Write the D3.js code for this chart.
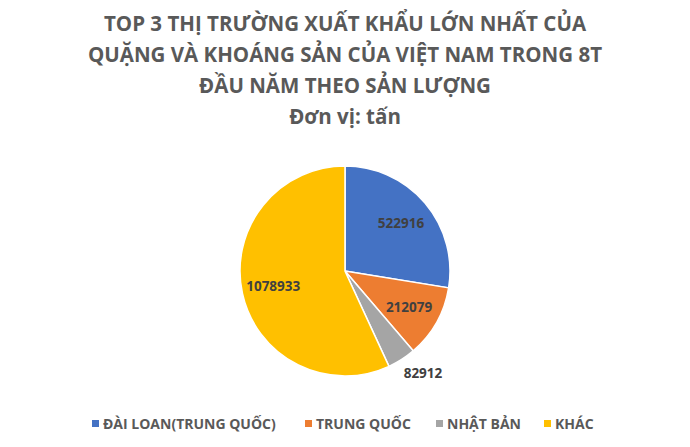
<html>
<script src='https://d3js.org/d3.v7.min.js'></script>
<style>
body {margin:0; background:#fff;}
text {font-family: 'Open Sans', sans-serif; font-weight: bold;}
</style>
<body onload='init()'>
<svg width=690 height=447></svg>
<script>
var titleLines = ["TOP 3 THỊ TRƯỜNG XUẤT KHẨU LỚN NHẤT CỦA",
                  "QUẶNG VÀ KHOÁNG SẢN CỦA VIỆT NAM TRONG 8T",
                  "ĐẦU NĂM THEO SẢN LƯỢNG",
                  "Đơn vị: tấn"];
var markets = ["ĐÀI LOAN(TRUNG QUỐC)", "TRUNG QUỐC", "NHẬT BẢN", "KHÁC"];
var volumes = [522916, 212079, 82912, 1078933];
var colors = ["#4472C4", "#ED7D31", "#A5A5A5", "#FFC000"];

function init() {
  var svg = d3.select("svg");
  var cx = 345, cy = 271, r = 105;

  svg.append("g").selectAll("text")
    .data(titleLines)
    .enter().append("text")
      .attr("x", 345)
      .attr("y", function(d, i) { return 31 + i * 31; })
      .attr("text-anchor", "middle")
      .attr("font-size", 20.5)
      .attr("fill", "#595959")
      .text(function(d) { return d; });

  var data = markets.map(function(m, i) { return {name: m, value: volumes[i], color: colors[i]}; });
  var pie = d3.pie().sort(null).value(function(d) { return d.value; });
  var arcs = pie(data);
  var arc = d3.arc().innerRadius(0).outerRadius(r);
  var inner = d3.arc().innerRadius(r * 0.7).outerRadius(r * 0.7);
  var outer = d3.arc().innerRadius(r * 1.2).outerRadius(r * 1.2);

  var g = svg.append("g").attr("transform", "translate(" + cx + "," + cy + ")");
  g.selectAll("path")
    .data(arcs)
    .enter().append("path")
      .attr("d", arc)
      .attr("fill", function(d) { return d.data.color; })
      .attr("stroke", "#fff")
      .attr("stroke-width", 1.5);

  g.selectAll("text")
    .data(arcs)
    .enter().append("text")
      .attr("transform", function(d) {
        var small = (d.endAngle - d.startAngle) < 0.4;
        var p = (small ? outer : inner).centroid(d);
        if (small) { p[0] += 10; p[1] -= 4; }
        return "translate(" + p + ")";
      })
      .attr("text-anchor", "middle")
      .attr("dy", "0.35em")
      .attr("font-size", 13.5)
      .attr("fill", "#404040")
      .text(function(d) { return d.data.value; });

  // legend
  var legendX = [92, 305, 436, 544];
  var lg = svg.append("g").selectAll("g")
    .data(data)
    .enter().append("g")
      .attr("transform", function(d, i) { return "translate(" + legendX[i] + ",424)"; });
  lg.append("rect")
    .attr("x", 0).attr("y", -4)
    .attr("width", 7).attr("height", 7)
    .attr("fill", function(d) { return d.color; });
  lg.append("text")
    .attr("x", 11)
    .attr("dy", "0.35em")
    .attr("font-size", 14)
    .attr("fill", "#595959")
    .text(function(d) { return d.name; });
}
</script>
</body>
</html>
